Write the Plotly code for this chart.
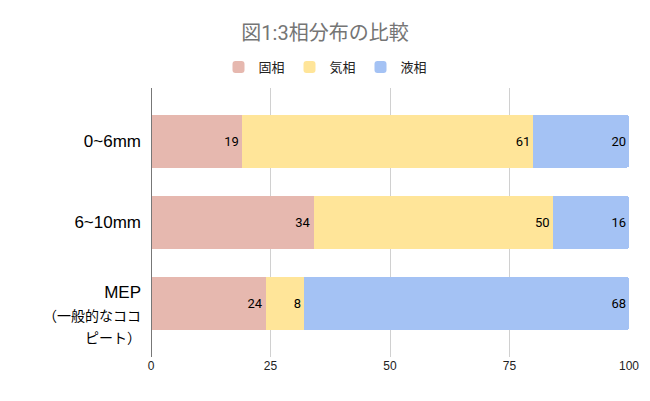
import plotly.graph_objects as go

cjk = "font-size:14px;font-family:Noto Sans CJK JP"
categories = ["0~6mm", "6~10mm",
              " <br>MEP<br><span style='" + cjk + "'>（一般的なココ</span><br>"
              "<span style='" + cjk + "'>ピート）</span>"]
solid = [19, 34, 24]
gas = [61, 50, 8]
liquid = [20, 16, 68]
series_names = ["固相", "気相", "液相"]
colors = ["#E6B8AF", "#FFE599", "#A4C2F4"]

fig = go.Figure()
for name, vals, col in zip(series_names, [solid, gas, liquid], colors):
    fig.add_trace(go.Bar(
        y=categories, x=vals, name=name, orientation="h",
        marker=dict(color=col, line=dict(width=0)),
        text=[str(v) for v in vals], textposition="inside",
        insidetextanchor="end", textangle=0,
        textfont=dict(color="#000000", size=13, family="Roboto"),
        width=0.65,
    ))

fig.update_layout(
    barmode="stack",
    barcornerradius=3,
    width=650, height=401,
    margin=dict(l=151, r=21, t=88, b=44, autoexpand=False),
    paper_bgcolor="white", plot_bgcolor="white",
    font=dict(family="'Liberation Sans', Arial, 'Noto Sans CJK JP'", color="#000000"),
    title=dict(text="図1:3相分布の比較", x=0.5, xanchor="center", xref="container",
               y=0.918, yanchor="middle",
               font=dict(size=20, color="#757575", family="Roboto, 'Noto Sans CJK JP'")),
    legend=dict(orientation="h", x=0.5, xanchor="center", xref="container",
                y=1.078, yanchor="middle", yref="paper",
                font=dict(size=13, color="#222222", family="Roboto, 'Noto Sans CJK JP'"),
                traceorder="normal", itemwidth=30,
                entrywidth=26, entrywidthmode="pixels"),
    showlegend=True,
    xaxis=dict(range=[0, 100], tickvals=[0, 25, 50, 75, 100], showgrid=True,
               gridcolor="#D0D0D0", gridwidth=1, zeroline=False, showline=False,
               tickfont=dict(size=12, color="#222222"), ticks="", fixedrange=True),
    yaxis=dict(autorange=False, range=[2.66, -0.66], showline=False, ticks="",
               tickfont=dict(size=17, color="#000000"), ticklabelstandoff=9),
    shapes=[dict(type="line", xref="x", yref="paper", x0=0, x1=0, y0=0, y1=1,
                 line=dict(color="#777777", width=2))],
)

fig.write_html("out.html")
